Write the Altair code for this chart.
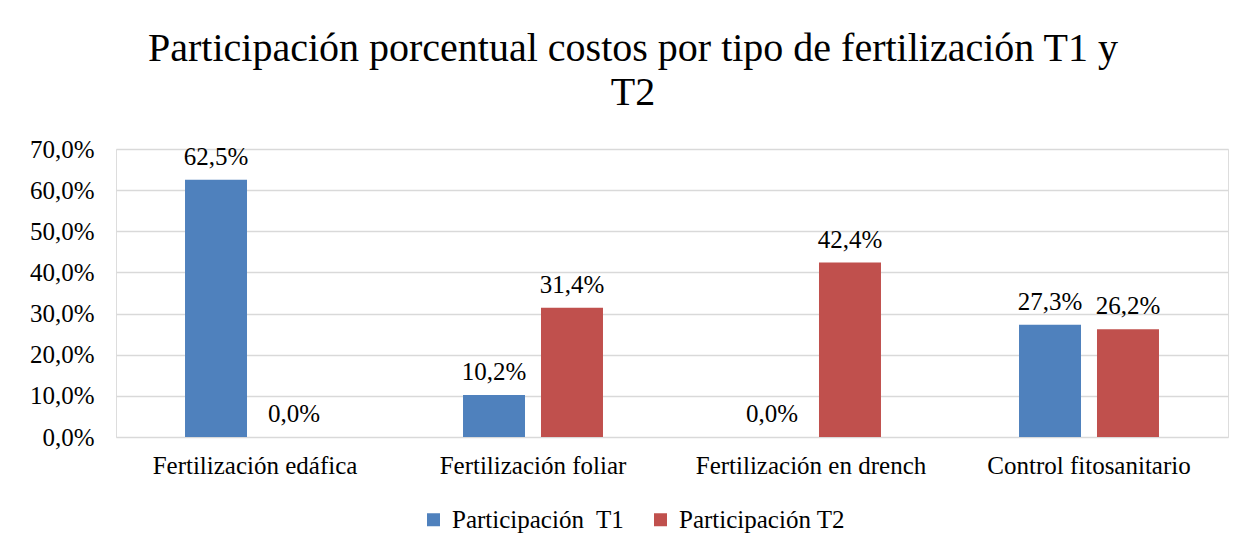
import altair as alt
import pandas as pd

categories = ["Fertilización edáfica", "Fertilización foliar", "Fertilización en drench", "Control fitosanitario"]
series = ["Participación\u00a0 T1", "Participación T2"]
t1 = [0.625, 0.102, 0.0, 0.273]
t2 = [0.0, 0.314, 0.424, 0.262]
colors = ["#4f81bd", "#c0504d"]
y_ticks = [0, 0.1, 0.2, 0.3, 0.4, 0.5, 0.6, 0.7]

rows = []
for i, c in enumerate(categories):
    rows.append({"cat": c, "serie": series[0], "val": t1[i]})
    rows.append({"cat": c, "serie": series[1], "val": t2[i]})
df = pd.DataFrame(rows)

FONT = "Liberation Serif"
FS = 25

base = alt.Chart(df).transform_calculate(
    lbl="replace(format(datum.val, '.1%'), '.', ',')"
)

x = alt.X("cat:N", sort=categories, title=None,
          scale=alt.Scale(paddingInner=0, paddingOuter=0),
          axis=alt.Axis(labelAngle=0, ticks=False, domain=False, grid=False,
                        labelFont=FONT, labelFontSize=FS, labelColor="#000000",
                        labelPadding=16, labelLimit=0))
xo = alt.XOffset("serie:N", sort=series,
                 scale=alt.Scale(paddingInner=0.205, paddingOuter=0.885))
y = alt.Y("val:Q", title=None,
          scale=alt.Scale(domain=[0, 0.7], nice=False),
          axis=alt.Axis(values=y_ticks, ticks=False, domain=False,
                        labelExpr="replace(format(datum.value, '.1%'), '.', ',')",
                        labelFont=FONT, labelFontSize=FS, labelColor="#000000",
                        labelPadding=22, labelLimit=0,
                        gridColor="#d9d9d9", gridWidth=1.5))

bars = base.mark_bar().encode(
    x=x, xOffset=xo, y=y,
    color=alt.Color("serie:N", sort=series,
                    scale=alt.Scale(domain=series, range=colors),
                    legend=alt.Legend(title=None, orient="none", direction="horizontal",
                                      legendX=305, legendY=358,
                                      symbolType="square", symbolSize=169,
                                      symbolStrokeWidth=0, labelFont=FONT,
                                      labelFontSize=FS, labelColor="#000000",
                                      columnPadding=23, symbolOffset=0,
                                      labelOffset=6, padding=0, labelLimit=0))
)

labels = base.mark_text(baseline="alphabetic", dy=-15, font=FONT, fontSize=FS,
                        color="#000000").encode(
    x=alt.X("cat:N", sort=categories), xOffset=alt.XOffset("serie:N", sort=series),
    y="val:Q", text="lbl:N"
)

chart = alt.layer(bars, labels).properties(
    width=1112, height=288,
    autosize=alt.AutoSizeParams(type="none"),
    padding={"left": 108, "top": 141, "right": 20, "bottom": 100},
    title=alt.Title(["Participación porcentual costos por tipo de fertilización T1 y", "T2"],
                    font=FONT, fontSize=40, fontWeight="normal", color="#000000",
                    anchor="middle", dx=-39, offset=24, lineHeight=44)
).configure_view(stroke=None).configure(background="white")

chart.save("out.html", embed_options={"renderer": "svg", "actions": False})
